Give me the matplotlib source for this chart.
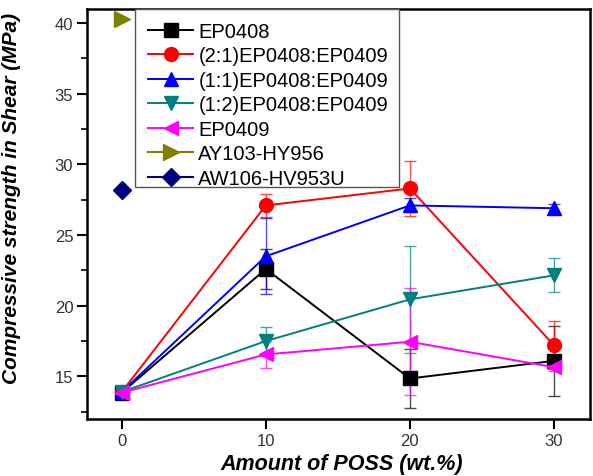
import matplotlib
matplotlib.use('Agg')
import matplotlib.pyplot as plt
from matplotlib.patches import Rectangle
import numpy as np

plt.rcParams.update({
    'font.family': ['Liberation Sans', 'DejaVu Sans'],
    'font.size': 13,
})

poss = [0, 10, 20, 30]

ep0408 = [13.85, 22.6, 14.85, 16.1]
ep0408_err = [0.2, 1.4, 2.1, 2.5]
mix21 = [13.9, 27.1, 28.3, 17.2]
mix21_err = [0.2, 0.8, 1.95, 1.7]
mix11 = [13.9, 23.5, 27.1, 26.9]
mix11_err = [0.2, 2.7, 0.5, 0.3]
mix12 = [13.9, 17.5, 20.45, 22.15]
mix12_err = [0.2, 1.0, 3.8, 1.2]
ep0409 = [13.85, 16.55, 17.45, 15.65]
ep0409_err = [0.2, 0.95, 3.8, 0.3]

ay103 = 40.3
aw106 = 28.2

series = [
    ('EP0408', ep0408, ep0408_err, 's', '#000000'),
    ('(2:1)EP0408:EP0409', mix21, mix21_err, 'o', '#FF0000'),
    ('(1:1)EP0408:EP0409', mix11, mix11_err, '^', '#0000FF'),
    ('(1:2)EP0408:EP0409', mix12, mix12_err, 'v', '#008080'),
    ('EP0409', ep0409, ep0409_err, '<', '#FF00FF'),
]

fig = plt.figure(figsize=(5.93, 4.77), dpi=100)
ax = fig.add_axes([0.147, 0.12, 0.848, 0.859])

for label, vals, err, marker, color in series:
    ax.errorbar(poss, vals, yerr=err, fmt='none', ecolor=color, elinewidth=1.0,
                capsize=4, capthick=1.0, alpha=0.7, zorder=2)
    ax.plot(poss, vals, marker=marker, color=color, linewidth=1.4,
            markersize=10, label=label, zorder=3)

ax.plot([0], [ay103], marker='>', linestyle='-', color='#808000', markersize=11,
        label='AY103-HY956', zorder=3)
ax.plot([0], [aw106], marker='D', linestyle='-', color='#000080', markersize=9,
        label='AW106-HV953U', zorder=3)

ax.set_xlim(-2.4, 32.5)
ax.set_ylim(12.0, 41.0)
ax.set_xticks([0, 10, 20, 30])
ax.set_yticks([15, 20, 25, 30, 35, 40])
ax.set_yticks(np.arange(12.5, 41, 5), minor=True)
ax.tick_params(axis='both', which='major', direction='out', length=7, width=1.5,
               pad=3, labelsize=12, labelcolor='#333333')
ax.tick_params(axis='y', which='minor', direction='out', length=4, width=1.2)
for side in ['left', 'bottom', 'right', 'top']:
    ax.spines[side].set_linewidth(1.8)

ax.set_xlabel('Amount of POSS (wt.%)', fontsize=15.5, fontweight='bold',
              fontstyle='italic')
ax.set_ylabel('Compressive strength in Shear (MPa)', fontsize=15,
              fontweight='bold', fontstyle='italic')
ax.xaxis.set_label_coords(0.507, -0.083)
ax.yaxis.set_label_coords(-0.131, 0.54)

# legend box drawn separately: the original has more room above the first row
ax.add_patch(Rectangle((0.0954, 0.566), 0.5248, 0.434, transform=ax.transAxes,
                       facecolor='white', edgecolor='#555555', linewidth=1.0,
                       zorder=4))
leg = ax.legend(loc='upper left', bbox_to_anchor=(0.121, 0.969), frameon=False,
                fontsize=14.5, handlelength=2.25, handletextpad=0.25,
                labelspacing=0.275, borderpad=0.0, borderaxespad=0.0)
leg.set_zorder(5)

fig.savefig('out.png', dpi=100)
